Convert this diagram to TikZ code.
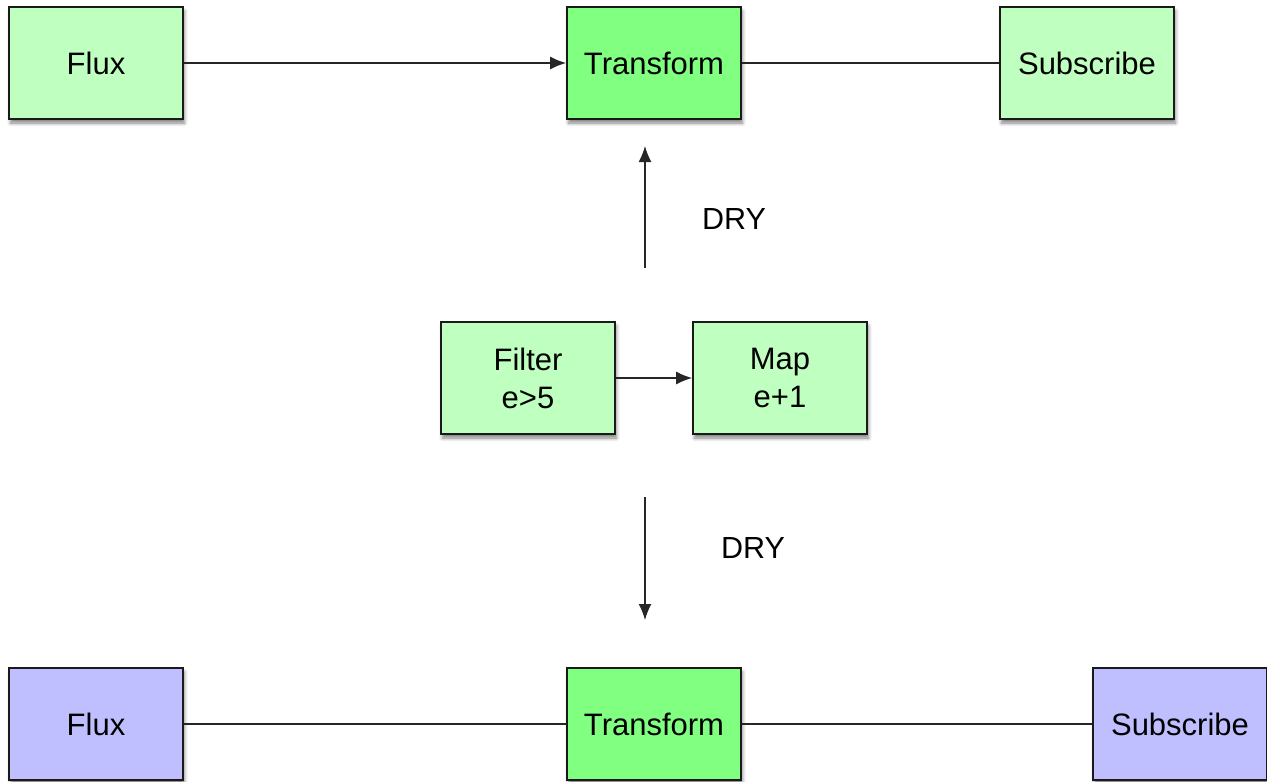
\documentclass[tikz,border=0pt]{standalone}
\usepackage{fontspec}
\setmainfont{Liberation Sans}
\usetikzlibrary{shadows.blur,arrows.meta}
\definecolor{lightg}{HTML}{BFFFBF}
\definecolor{brightg}{HTML}{80FF80}
\definecolor{lav}{HTML}{BFBFFF}
\definecolor{edge}{HTML}{1A1A1A}
\begin{document}
\begin{tikzpicture}[x=1pt,y=-1pt,
  box/.style={draw=edge,line width=1.8pt,minimum width=174pt,minimum height=112pt,inner sep=0pt,
    align=center,font=\fontsize{31}{38}\selectfont,
    blur shadow={shadow xshift=1.5pt,shadow yshift=-4pt,shadow blur steps=6,shadow opacity=50,shadow blur radius=3.5pt}},
  conn/.style={draw=black!85,line width=1.4pt},
  arr/.style={conn,-{Latex[length=16pt,width=13pt]}},
  lbl/.style={font=\fontsize{30.5}{35}\selectfont}]
\useasboundingbox (0,0) rectangle (1267,782);
\node[box,fill=lightg] (flux1) at (96,63) {Flux};
\node[box,fill=brightg] (tr1) at (654,63) {Transform};
\node[box,fill=lightg] (sub1) at (1087,63) {Subscribe};
\node[box,fill=lightg] (filter) at (528,378) {Filter\\e>5};
\node[box,fill=lightg] (map) at (780,378) {Map\\e+1};
\node[box,fill=lav] (flux2) at (96,724) {Flux};
\node[box,fill=brightg] (tr2) at (654,724) {Transform};
\node[box,fill=lav] (sub2) at (1180,724) {Subscribe};
\coordinate (u1) at (645,268);
\coordinate (u2) at (645,146);
\coordinate (d1) at (645,497);
\coordinate (d2) at (645,620);
\draw[arr] (flux1.east) -- (tr1.west);
\draw[conn] (tr1.east) -- (sub1.west);
\draw[arr] (filter.east) -- (map.west);
\draw[conn] (flux2.east) -- (tr2.west);
\draw[conn] (tr2.east) -- (sub2.west);
\draw[arr] (u1) -- (u2);
\draw[arr] (d1) -- (d2);
\node[lbl] (dry1) at (734,219) {DRY};
\node[lbl] (dry2) at (753,548) {DRY};
\end{tikzpicture}
\end{document}
